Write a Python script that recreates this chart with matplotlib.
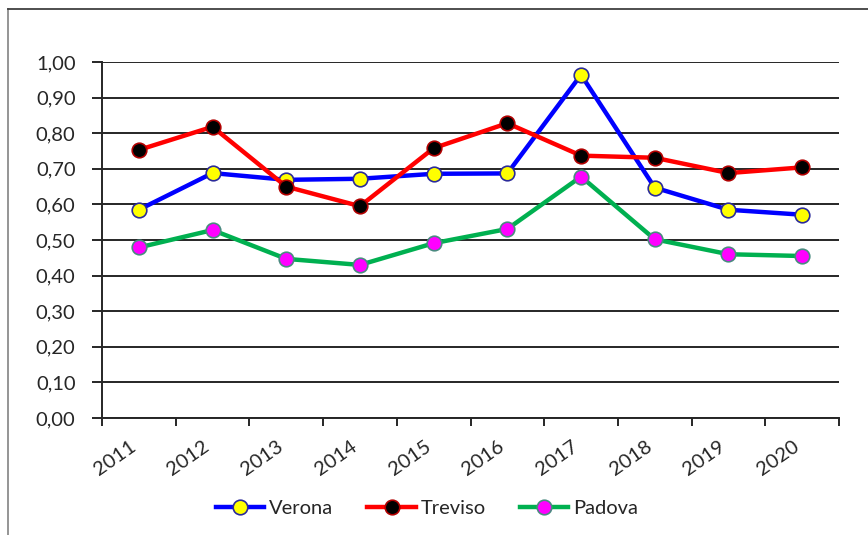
import matplotlib.pyplot as plt
from matplotlib.lines import Line2D
import numpy as np

plt.rcParams['font.family'] = ['Lato', 'DejaVu Sans']

years = ['2011', '2012', '2013', '2014', '2015', '2016', '2017', '2018', '2019', '2020']
verona = [0.585, 0.688, 0.669, 0.672, 0.686, 0.687, 0.964, 0.647, 0.585, 0.571]
treviso = [0.753, 0.818, 0.650, 0.595, 0.758, 0.828, 0.737, 0.731, 0.688, 0.704]
padova = [0.479, 0.528, 0.447, 0.430, 0.491, 0.531, 0.678, 0.502, 0.460, 0.455]

W, H = 868, 535
fig = plt.figure(figsize=(W / 100, H / 100), dpi=100)
ax = fig.add_axes([102 / W, 1 - 418 / H, (839 - 102) / W, (418 - 62) / H])

x = np.arange(len(years))
styles = [
    ('Verona', verona, '#0000ff', '#ffff00', '#2a2a9a'),
    ('Treviso', treviso, '#ff0000', '#000000', '#b00000'),
    ('Padova', padova, '#00b050', '#ff00ff', '#4a8a80'),
]
for name, vals, lc, fc, ec in styles:
    ax.plot(x, vals, color=lc, lw=3.2, marker='o', ms=10.5,
            mfc=fc, mec=ec, mew=1.2, label=name, zorder=3)

ax.set_xlim(-0.5, len(years) - 0.5)
ax.set_ylim(0, 1.0)
ax.set_yticks(np.arange(0, 1.01, 0.1))
ax.set_yticklabels([f'{v:.2f}'.replace('.', ',') for v in np.arange(0, 1.01, 0.1)])
ax.yaxis.grid(True, color='#262626', lw=1.4)
ax.set_axisbelow(True)

ax.set_xticks(x)
ax.set_xticklabels(years, rotation=35, ha='right', rotation_mode='default')
ax.set_xticks(np.arange(-0.5, len(years)), minor=True)
ax.tick_params(axis='x', which='major', length=0, pad=14, labelsize=14.5, colors='#262626')
ax.tick_params(axis='x', which='minor', length=6, width=1.4, color='#262626', direction='out')
ax.tick_params(axis='y', length=7, width=1.4, color='#262626', labelsize=14.5,
               labelcolor='#262626', pad=12)

for s in ['top', 'right']:
    ax.spines[s].set_visible(False)
for s in ['left', 'bottom']:
    ax.spines[s].set_color('#262626')
    ax.spines[s].set_linewidth(1.4)

leg = fig.legend(loc='center', bbox_to_anchor=(427 / W, 1 - 508 / H), ncol=3,
                 frameon=False, fontsize=14.5, handlelength=2.4, columnspacing=1.7,
                 handletextpad=0.25)
for t in leg.get_texts():
    t.set_color('#262626')

# chart frame
fig.add_artist(Line2D([7.5 / W, 7.5 / W], [0, 1 - 9 / H], color='#8c8c8c', lw=1.3,
                      transform=fig.transFigure))
fig.add_artist(Line2D([7.5 / W, 1], [1 - 9 / H, 1 - 9 / H], color='#404040', lw=1.3,
                      transform=fig.transFigure))

fig.savefig('out.png', dpi=100)
